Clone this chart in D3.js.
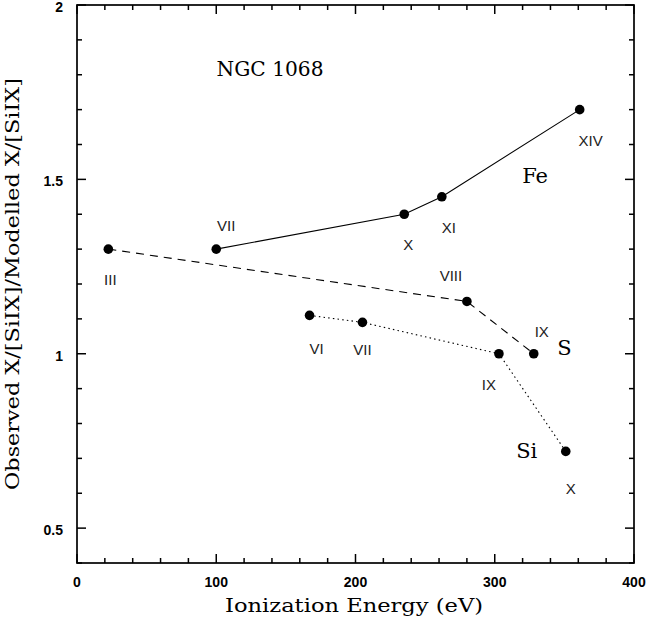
<!DOCTYPE html>
<html>
<head>
<meta charset="utf-8">
<script src="https://cdn.jsdelivr.net/npm/d3@7"></script>
<style>
  body { margin: 0; background: #fff; }
  svg { display: block; }
</style>
</head>
<body>
<div id="chart"></div>
<script>
// ionization energies (eV) and observed/modelled ratios
const feIons = ["VII", "X", "XI", "XIV"];
const feEnergy = [100, 235, 262, 361];
const feRatio = [1.30, 1.40, 1.45, 1.70];

const sIons = ["III", "VIII", "IX"];
const sEnergy = [22.5, 280, 328];
const sRatio = [1.30, 1.15, 1.00];

const siIons = ["VI", "VII", "IX", "X"];
const siEnergy = [167, 205, 303, 351];
const siRatio = [1.11, 1.09, 1.00, 0.72];

const xTicks = [0, 100, 200, 300, 400];
const yTicks = [0.5, 1, 1.5, 2];

const width = 647, height = 624;
const margin = { top: 5, right: 13, bottom: 61, left: 77 };
const w = width - margin.left - margin.right,
  h = height - margin.top - margin.bottom;

const svg = d3.select("#chart").append("svg")
  .attr("width", width)
  .attr("height", height);

const g = svg.append("g")
  .attr("transform", "translate(" + margin.left + "," + margin.top + ")");

const x = d3.scaleLinear().domain([0, 400]).range([0, w]);
const y = d3.scaleLinear().domain([0.4, 2]).range([h, 0]);

// minor ticks every 20 eV / 0.1, major at labelled values
const xMinor = d3.range(0, 401, 20);
const yMinor = d3.range(0.4, 2.001, 0.1).map(v => +v.toFixed(1));

// ticks on all four sides, pointing inward
function drawTicks(sel, vals, isMajor, pos, horiz, dir) {
  sel.selectAll(null).data(vals).enter().append("line")
    .attr("x1", d => horiz ? x(d) : pos)
    .attr("x2", d => horiz ? x(d) : pos + dir * (isMajor(d) ? 9 : 5))
    .attr("y1", d => horiz ? pos : y(d))
    .attr("y2", d => horiz ? pos + dir * (isMajor(d) ? 9 : 5) : y(d))
    .attr("stroke", "#000")
    .attr("stroke-width", 1.5);
}
const tickG = g.append("g");
const xMaj = d => d % 100 === 0;
const yMaj = d => Math.abs(d * 2 - Math.round(d * 2)) < 1e-6;
drawTicks(tickG, xMinor, xMaj, h, true, -1);
drawTicks(tickG, xMinor, xMaj, 0, true, 1);
drawTicks(tickG, yMinor, yMaj, 0, false, 1);
drawTicks(tickG, yMinor, yMaj, w, false, -1);

g.append("rect")
  .attr("width", w).attr("height", h)
  .attr("fill", "none").attr("stroke", "#000").attr("stroke-width", 1.7);

// tick labels
const sans = "Liberation Sans, Arial, sans-serif";
g.append("g").selectAll("text").data(xTicks).enter().append("text")
  .attr("x", d => x(d)).attr("y", h + 24)
  .attr("text-anchor", "middle")
  .attr("font-family", sans)
  .attr("font-weight", "bold").attr("font-size", 14)
  .text(d => d);
g.append("g").selectAll("text").data(yTicks).enter().append("text")
  .attr("x", -14).attr("y", d => y(d) + 7)
  .attr("text-anchor", "end")
  .attr("font-family", sans)
  .attr("font-weight", "bold").attr("font-size", 14)
  .text(d => d);

// axis titles
const serif = "DejaVu Serif, serif";
svg.append("text")
  .attr("x", 354).attr("y", 612)
  .attr("text-anchor", "middle")
  .attr("font-family", serif).attr("font-size", 18)
  .attr("textLength", 258).attr("lengthAdjust", "spacingAndGlyphs")
  .text("Ionization Energy (eV)");
svg.append("text")
  .attr("transform", "translate(19,284) rotate(-90)")
  .attr("text-anchor", "middle")
  .attr("font-family", serif).attr("font-size", 18)
  .attr("textLength", 412).attr("lengthAdjust", "spacingAndGlyphs")
  .text("Observed X/[SiIX]/Modelled X/[SiIX]");

g.append("text")
  .attr("x", 270 - margin.left).attr("y", 76 - margin.top)
  .attr("text-anchor", "middle")
  .attr("font-family", serif).attr("font-size", 20)
  .attr("textLength", 107).attr("lengthAdjust", "spacingAndGlyphs")
  .text("NGC 1068");

// series: ion label offsets in px, species name position in data units
const series = [
  { name: "Fe", ions: feIons, e: feEnergy, r: feRatio, dash: null,
    lab: [[10, -18], [4, 36], [7, 36], [11, 36]], nameAt: [329, 1.49] },
  { name: "S", ions: sIons, e: sEnergy, r: sRatio, dash: "8,6",
    lab: [[2, 36], [-16, -20], [8, -17]], nameAt: [350, 0.995] },
  { name: "Si", ions: siIons, e: siEnergy, r: siRatio, dash: "1.5,3.2",
    lab: [[7, 39], [0, 33], [-10, 36], [5, 43]], nameAt: [323, 0.70] }
];

const line = d3.line().x(d => x(d[0])).y(d => y(d[1]));

series.forEach(s => {
  const pts = s.e.map((v, i) => [v, s.r[i], s.ions[i]]);
  g.append("path").datum(pts)
    .attr("fill", "none").attr("stroke", "#000").attr("stroke-width", 1.1)
    .attr("stroke-dasharray", s.dash)
    .attr("d", line);
  g.append("g").selectAll("circle").data(pts).enter().append("circle")
    .attr("cx", d => x(d[0])).attr("cy", d => y(d[1]))
    .attr("r", 4.8).attr("fill", "#000");
  g.append("g").selectAll("text").data(pts).enter().append("text")
    .attr("x", (d, i) => x(d[0]) + s.lab[i][0])
    .attr("y", (d, i) => y(d[1]) + s.lab[i][1])
    .attr("text-anchor", "middle")
    .attr("font-family", sans)
    .attr("font-size", 15)
    .attr("fill", "#222")
    .text(d => d[2]);
  g.append("text")
    .attr("x", x(s.nameAt[0])).attr("y", y(s.nameAt[1]))
    .attr("text-anchor", "middle")
    .attr("font-family", serif).attr("font-size", 21)
    .text(s.name);
});
</script>
</body>
</html>
